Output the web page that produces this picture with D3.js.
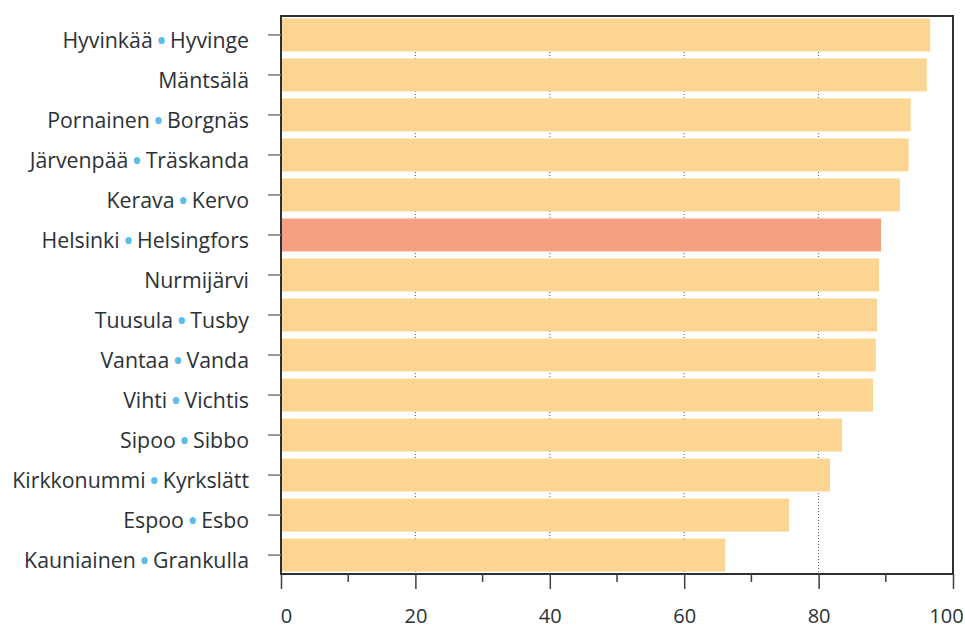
<!DOCTYPE html>
<html>
<head>
<meta charset="utf-8">
<script src="https://cdn.jsdelivr.net/npm/d3@7"></script>
<style>
    body { margin: 0; background: #fff; }
    svg { display: block; }
</style>
</head>
<body>
<svg width="965" height="628"></svg>
<script>
// municipality names (Finnish, Swedish)
const namesFi = ['Hyvinkää', 'Mäntsälä', 'Pornainen', 'Järvenpää', 'Kerava', 'Helsinki', 'Nurmijärvi',
    'Tuusula', 'Vantaa', 'Vihti', 'Sipoo', 'Kirkkonummi', 'Espoo', 'Kauniainen'];
const namesSv = ['Hyvinge', '', 'Borgnäs', 'Träskanda', 'Kervo', 'Helsingfors', '',
    'Tusby', 'Vanda', 'Vichtis', 'Sibbo', 'Kyrkslätt', 'Esbo', 'Grankulla'];
const values = [96.6, 96.1, 93.7, 93.4, 92.1, 89.3, 89.0, 88.7, 88.5, 88.1, 83.5, 81.7, 75.6, 66.1];
const highlight = 'Helsinki';
const xTicks = [0, 20, 40, 60, 80, 100];
const xMinorTicks = [10, 30, 50, 70, 90];

const data = namesFi.map((_name, i) => {
    return { fi: _name, sv: namesSv[i], value: values[i] };
});

const margin = { top: 16, right: 12, bottom: 54, left: 281 };
const width = 965 - margin.left - margin.right;
const height = 628 - margin.top - margin.bottom;
const font = "'Open Sans', 'Noto Sans', sans-serif";

const svg = d3.select('svg');
const g = svg.append('g').attr('transform', `translate(${margin.left},${margin.top})`);

const xScale = d3.scaleLinear().domain([0, 100]).range([0, width]);
const yScale = d3
    .scaleBand()
    .domain(namesFi)
    .range([0, height])
    .paddingInner(0.175)
    .paddingOuter(0.06);

// dotted grid lines
g.selectAll('.grid')
    .data(xTicks.filter((d) => d > 0 && d < 100))
    .join('line')
    .attr('x1', (d) => xScale(d))
    .attr('x2', (d) => xScale(d))
    .attr('y1', 0)
    .attr('y2', height)
    .attr('stroke', '#555')
    .attr('stroke-width', 1)
    .attr('stroke-dasharray', '1,2');

// bars
g.selectAll('.bar')
    .data(data)
    .join('rect')
    .attr('x', 0)
    .attr('y', (d) => yScale(d.fi))
    .attr('width', (d) => xScale(d.value))
    .attr('height', yScale.bandwidth())
    .attr('fill', (d) => (d.fi === highlight ? '#f6a083' : '#fdd593'));

// frame
g.append('rect')
    .attr('x', 0)
    .attr('y', 0)
    .attr('width', width)
    .attr('height', height)
    .attr('fill', 'none')
    .attr('stroke', '#2b3236')
    .attr('stroke-width', 2);

// x axis, major + minor ticks
const xAxis = g.append('g').attr('transform', `translate(0,${height})`);
xAxis.call(d3.axisBottom(xScale).tickValues(xTicks).tickSize(15).tickSizeOuter(0))
    .call((_g) => _g.select('.domain').remove());
xAxis.selectAll('.tick line').attr('stroke', '#3a4045').attr('stroke-width', 1.5);
xAxis.selectAll('.tick text')
    .attr('y', 49)
    .attr('dy', 0)
    .attr('x', (d) => (d === 0 ? 5 : d === 100 ? -7 : 0))
    .attr('fill', '#2b3236')
    .attr('font-family', font)
    .attr('font-size', 20);

g.append('g')
    .attr('transform', `translate(0,${height})`)
    .selectAll('line')
    .data(xMinorTicks)
    .join('line')
    .attr('x1', (d) => xScale(d))
    .attr('x2', (d) => xScale(d))
    .attr('y1', 0)
    .attr('y2', 8)
    .attr('stroke', '#3a4045')
    .attr('stroke-width', 1.5);

// y ticks
g.selectAll('.ytick')
    .data(namesFi)
    .join('line')
    .attr('x1', -13)
    .attr('x2', 0)
    .attr('y1', (d) => yScale(d) + yScale.bandwidth() / 2)
    .attr('y2', (d) => yScale(d) + yScale.bandwidth() / 2)
    .attr('stroke', '#777')
    .attr('stroke-width', 1.5);

// labels: finnish • swedish
const labels = g.selectAll('.label')
    .data(data)
    .join('text')
    .attr('x', -32)
    .attr('y', (d) => yScale(d.fi) + yScale.bandwidth() / 2 + 13)
    .attr('text-anchor', 'end')
    .attr('fill', '#2b3236')
    .attr('font-family', font)
    .attr('font-size', 21.3);

labels.append('tspan').text((d) => d.fi);
const withSv = labels.filter((d) => d.sv !== '');
withSv.append('tspan')
    .attr('fill', '#5bbde8')
    .attr('font-size', 30)
    .attr('dy', 3)
    .text('\u200a•\u200a');
withSv.append('tspan')
    .attr('dy', -3)
    .text((d) => d.sv);
</script>
</body>
</html>
